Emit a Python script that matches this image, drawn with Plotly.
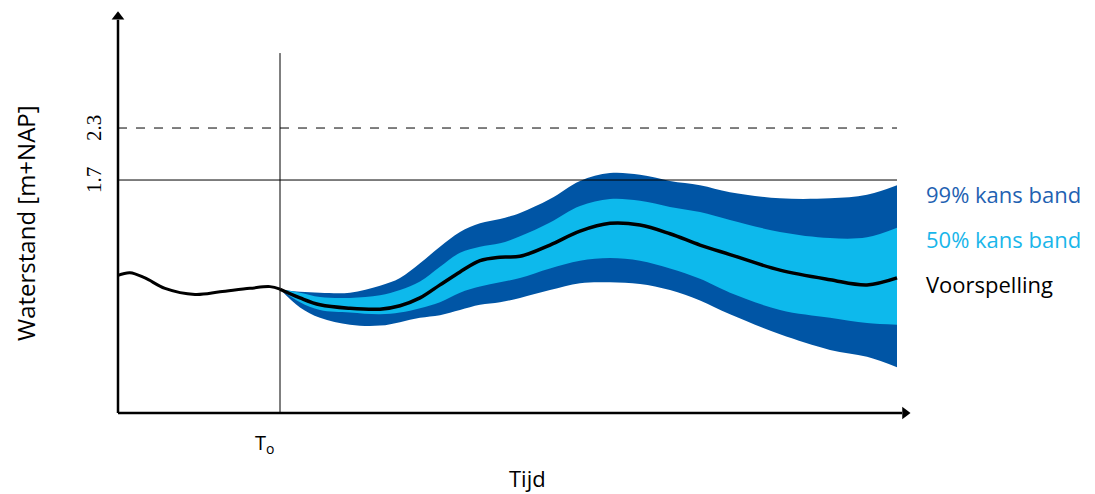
import plotly.graph_objects as go

# Time (hours relative to T0) and water level (m+NAP)
hist_t = [-16.2, -15, -13.5, -11.5, -8.5, -6, -3, -1, 0]
hist_y = [0.60, 0.63, 0.57, 0.45, 0.38, 0.41, 0.45, 0.47, 0.44]

fc_t = [0, 2, 4, 7, 10, 12, 14, 16, 18, 20, 22, 24, 27, 30, 33, 36, 39, 42, 45, 50, 55, 58.7, 61.7]
forecast = [0.44, 0.34, 0.26, 0.22, 0.21, 0.25, 0.34, 0.49, 0.64, 0.77, 0.81, 0.82, 0.95, 1.11,
            1.20, 1.18, 1.08, 0.95, 0.84, 0.66, 0.55, 0.49, 0.57]
p99_upper = [0.44, 0.41, 0.40, 0.40, 0.48, 0.57, 0.74, 0.93, 1.10, 1.20, 1.25, 1.32, 1.48, 1.69,
             1.78, 1.76, 1.69, 1.64, 1.56, 1.49, 1.49, 1.53, 1.64]
p50_upper = [0.44, 0.40, 0.35, 0.34, 0.37, 0.43, 0.53, 0.70, 0.86, 0.93, 0.97, 1.05, 1.21, 1.40,
             1.48, 1.46, 1.39, 1.33, 1.24, 1.10, 1.03, 1.04, 1.15]
p50_lower = [0.44, 0.29, 0.20, 0.17, 0.15, 0.17, 0.22, 0.29, 0.40, 0.47, 0.52, 0.57, 0.68, 0.77,
             0.80, 0.77, 0.68, 0.56, 0.40, 0.20, 0.11, 0.05, 0.03]
p99_lower = [0.44, 0.23, 0.11, 0.03, 0.02, 0.06, 0.11, 0.14, 0.20, 0.26, 0.29, 0.34, 0.43, 0.51,
             0.52, 0.50, 0.43, 0.31, 0.15, -0.08, -0.26, -0.34, -0.46]

thresholds = [1.7, 2.3]
threshold_labels = ["1.7", "2.3"]
labels = ["99% kans band", "50% kans band", "Voorspelling"]

# axis extents (data units)
AX_X0 = -16.2     # y-axis position / start of time axis
AX_Y0 = -0.988    # x-axis position
AX_XTIP = 63.0
AX_YTIP = 3.638
T_END = 61.7
T0_TOP = 3.165

# layout geometry (page pixels; page body has an 8px margin)
PAGE_OFF = 8
PLOT_L, PLOT_R, PLOT_T, PLOT_B = 110, 912, 8, 420
X_MIN, X_MAX = -17.0, 63.2
Y_MIN, Y_MAX = -1.069, 3.685


def px(x):
    return (x - PLOT_L) / (PLOT_R - PLOT_L)


def py(y):
    return (PLOT_B - y) / (PLOT_B - PLOT_T)


DARK = "#0055A5"
LIGHT = "#0DB9EC"

fig = go.Figure()


def band(lower, upper, color):
    fig.add_trace(go.Scatter(x=fc_t, y=lower, mode="lines", line=dict(width=0, shape="spline", smoothing=1),
                             hoverinfo="skip", showlegend=False))
    fig.add_trace(go.Scatter(x=fc_t, y=upper, mode="lines", line=dict(width=0, shape="spline", smoothing=1),
                             fill="tonexty", fillcolor=color, hoverinfo="skip", showlegend=False))


band(p99_lower, p99_upper, DARK)
band(p50_lower, p50_upper, LIGHT)

fig.add_trace(go.Scatter(x=fc_t, y=forecast, mode="lines",
                         line=dict(color="black", width=3.5, shape="spline", smoothing=1),
                         hoverinfo="skip", showlegend=False))
fig.add_trace(go.Scatter(x=hist_t, y=hist_y, mode="lines",
                         line=dict(color="black", width=3, shape="spline", smoothing=1),
                         hoverinfo="skip", showlegend=False))

# threshold lines
fig.add_shape(type="line", x0=AX_X0, x1=T_END, y0=thresholds[0], y1=thresholds[0],
              line=dict(color="black", width=1), layer="above")
fig.add_shape(type="line", x0=AX_X0, x1=T_END, y0=thresholds[1], y1=thresholds[1],
              line=dict(color="black", width=1, dash="dash"), layer="above")
# T0 line
fig.add_shape(type="line", x0=0, x1=0, y0=AX_Y0, y1=T0_TOP,
              line=dict(color="black", width=1), layer="above")

# axes with arrowheads
fig.add_shape(type="line", x0=AX_X0, x1=AX_X0, y0=AX_Y0, y1=AX_YTIP - 0.09,
              line=dict(color="black", width=2.5), layer="above")
fig.add_shape(type="line", x0=AX_X0, x1=AX_XTIP - 0.8, y0=AX_Y0, y1=AX_Y0,
              line=dict(color="black", width=2.5), layer="above")
fig.add_trace(go.Scatter(x=[AX_X0], y=[AX_YTIP - 0.055], mode="markers",
                         marker=dict(symbol="triangle-up", size=11, color="black"),
                         hoverinfo="skip", showlegend=False, cliponaxis=False))
fig.add_trace(go.Scatter(x=[AX_XTIP - 0.5], y=[AX_Y0], mode="markers",
                         marker=dict(symbol="triangle-right", size=11, color="black"),
                         hoverinfo="skip", showlegend=False, cliponaxis=False))

serif = "Liberation Serif, DejaVu Serif, serif"
sans = "Open Sans, Liberation Sans, sans-serif"

for val, lab in zip(thresholds, threshold_labels):
    fig.add_annotation(x=px(94), xref="paper", y=val, yref="y", text=lab, showarrow=False,
                       xanchor="center", yanchor="middle", textangle=-90,
                       font=dict(family=serif, size=21, color="black"))

fig.add_annotation(x=px(25), xref="paper", y=py(223), yref="paper", text="Waterstand [m+NAP]",
                   showarrow=False, textangle=-90, xanchor="center", yanchor="middle",
                   font=dict(family=sans, size=24, color="black"))
fig.add_annotation(x=px(527), xref="paper", y=py(478), yref="paper", text="Tijd",
                   showarrow=False, xanchor="center", yanchor="middle",
                   font=dict(family=sans, size=22, color="black"))
fig.add_annotation(x=px(264), xref="paper", y=py(443), yref="paper", text="T<sub>o</sub>",
                   showarrow=False, xanchor="center", yanchor="middle",
                   font=dict(family=sans, size=20, color="black"))

label_colors = ["#1F62B2", "#19B6EA", "black"]
label_py = [194, 239, 284]
for lab, col, yy in zip(labels, label_colors, label_py):
    fig.add_annotation(x=px(924), xref="paper", y=py(yy), yref="paper", text=lab,
                       xanchor="left", yanchor="middle",
                       showarrow=False, font=dict(family=sans, size=22, color=col))

fig.update_xaxes(range=[X_MIN, X_MAX], visible=False, fixedrange=True)
fig.update_yaxes(range=[Y_MIN, Y_MAX], visible=False, fixedrange=True)
W, H = 1095 - PAGE_OFF, 494 - PAGE_OFF
fig.update_layout(width=W, height=H,
                  margin=dict(l=PLOT_L - PAGE_OFF, r=W - (PLOT_R - PAGE_OFF),
                              t=PLOT_T - PAGE_OFF, b=H - (PLOT_B - PAGE_OFF)),
                  plot_bgcolor="white", paper_bgcolor="white", showlegend=False)

fig.write_html("out.html")
